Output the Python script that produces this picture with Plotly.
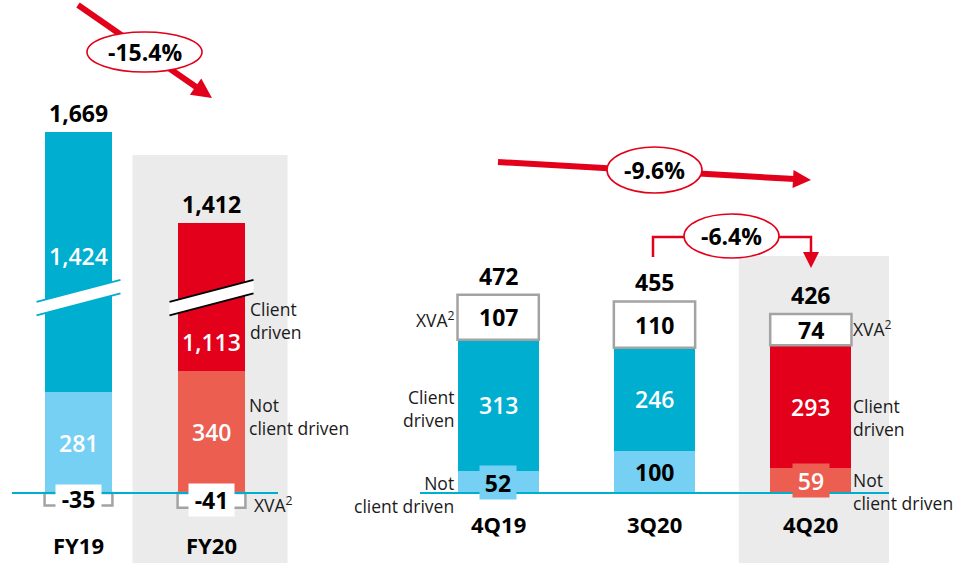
import plotly.graph_objects as go

# ---------------- data ----------------
annual_cats = ["FY19", "FY20"]
annual_not_client = [281, 340]
annual_client = [1424, 1113]
annual_xva = [-35, -41]
annual_total = [1669, 1412]

quarter_cats = ["4Q19", "3Q20", "4Q20"]
quarter_not_client = [52, 100, 59]
quarter_client = [313, 246, 293]
quarter_xva = [107, 110, 74]
quarter_total = [472, 455, 426]

change_labels = ["-15.4%", "-9.6%", "-6.4%"]


def fmt(v):
    return f"{v:,}"


# ---------------- style / layout ----------------
W, H = 953, 563
CYAN = "#00AECF"
LIGHT = "#76D0F3"
RED = "#E2001A"
SALMON = "#EB5E50"
GREY_BG = "#EBEBEB"
BOX_GREY = "#A3A3A3"
FONT = "Open Sans, sans-serif"

BASE_PX = 493          # baseline pixel row
L_SCALE, R_SCALE = 0.359, 0.42   # px per unit
BREAK = 700            # units cut out of the broken left axis
L_DOM = (12, 278)
R_DOM = (420, 889)
BW_L, BW_R = 0.51, 0.52


def yr(scale):
    lo = -(H - BASE_PX) / scale
    return [lo, lo + H / scale]


def P(x):
    return x / W


def Q(y):
    return 1 - y / H


def cx(dom, n, i):
    return dom[0] + (i + 0.5) * (dom[1] - dom[0]) / n


left_client_disp = [c - BREAK for c in annual_client]

fig = go.Figure()
common = dict(hoverinfo="skip", showlegend=False)
fig.add_bar(x=annual_cats, y=annual_not_client, width=BW_L, xaxis="x", yaxis="y",
            marker=dict(color=[LIGHT, SALMON], line=dict(width=0)), **common)
fig.add_bar(x=annual_cats, y=left_client_disp, width=BW_L, xaxis="x", yaxis="y",
            marker=dict(color=[CYAN, RED], line=dict(width=0)), **common)
fig.add_bar(x=annual_cats, y=annual_xva, width=BW_L, xaxis="x", yaxis="y",
            marker=dict(color="white", line=dict(width=2.5, color=BOX_GREY)), **common)

fig.add_bar(x=quarter_cats, y=quarter_not_client, width=BW_R, xaxis="x2", yaxis="y2",
            marker=dict(color=[LIGHT, LIGHT, SALMON], line=dict(width=0)), **common)
fig.add_bar(x=quarter_cats, y=quarter_client, width=BW_R, xaxis="x2", yaxis="y2",
            marker=dict(color=[CYAN, CYAN, RED], line=dict(width=0)), **common)
fig.add_bar(x=quarter_cats, y=quarter_xva, width=BW_R, xaxis="x2", yaxis="y2",
            marker=dict(color="white", line=dict(width=2.5, color=BOX_GREY)), **common)

shapes = []
# highlight backgrounds
fx = cx(L_DOM, 2, 1)
shapes.append(dict(type="rect", xref="paper", yref="paper", layer="below",
                   x0=P(fx - 79), x1=P(fx + 76), y0=0, y1=Q(155),
                   fillcolor=GREY_BG, line=dict(width=0)))
qx = cx(R_DOM, 3, 2)
shapes.append(dict(type="rect", xref="paper", yref="paper", layer="below",
                   x0=P(qx - 72), x1=P(R_DOM[1]), y0=0, y1=Q(256),
                   fillcolor=GREY_BG, line=dict(width=0)))

# baselines
for dom in (L_DOM, R_DOM):
    shapes.append(dict(type="line", xref="paper", yref="paper",
                       x0=P(dom[0]), x1=P(dom[1]), y0=Q(BASE_PX), y1=Q(BASE_PX),
                       line=dict(color=CYAN, width=2)))

# axis-break bands on the left bars
BREAK_AT = 545
bc = BASE_PX - BREAK_AT * L_SCALE
for i, edge in enumerate([CYAN, "black"]):
    c = cx(L_DOM, 2, i)
    xl, xr = c - 42, c + 42
    yl_t, yl_b = bc + 4.5, bc + 18
    yr_t, yr_b = bc - 17.5, bc - 4
    path = (f"M {P(xl)},{Q(yl_t)} L {P(xr)},{Q(yr_t)} L {P(xr)},{Q(yr_b)} "
            f"L {P(xl)},{Q(yl_b)} Z")
    shapes.append(dict(type="path", xref="paper", yref="paper", path=path,
                       fillcolor="white", line=dict(width=0)))
    for (ya, yb) in ((yl_t, yr_t), (yl_b, yr_b)):
        shapes.append(dict(type="line", xref="paper", yref="paper",
                           x0=P(xl), y0=Q(ya), x1=P(xr), y1=Q(yb),
                           line=dict(color=edge, width=1.8)))


def arrow(x0, y0, x1, y1, lw, hl, hw):
    dx, dy = x1 - x0, y1 - y0
    L = (dx * dx + dy * dy) ** 0.5
    ux, uy = dx / L, dy / L
    bx, by = x1 - ux * hl, y1 - uy * hl
    nx, ny = -uy, ux
    out = [dict(type="line", xref="paper", yref="paper",
                x0=P(x0), y0=Q(y0), x1=P(bx + ux * 2), y1=Q(by + uy * 2),
                line=dict(color=RED, width=lw))]
    path = (f"M {P(x1)},{Q(y1)} L {P(bx + nx * hw)},{Q(by + ny * hw)} "
            f"L {P(bx - nx * hw)},{Q(by - ny * hw)} Z")
    out.append(dict(type="path", xref="paper", yref="paper", path=path,
                    fillcolor=RED, line=dict(width=0)))
    return out


def ellipse(x0, x1, y0, y1):
    return dict(type="circle", xref="paper", yref="paper",
                x0=P(x0), x1=P(x1), y0=Q(y0), y1=Q(y1),
                fillcolor="white", line=dict(color=RED, width=1.6))


# FY change arrow
shapes += arrow(78, 5, 212, 98, 6, 20, 10)
shapes.append(ellipse(87, 202, 32, 72))
# 4Q19 -> 4Q20 arrow
shapes += arrow(498, 162, 811, 180, 6, 18, 9)
shapes.append(ellipse(607, 702, 147, 193))
# 3Q20 -> 4Q20 bracket
shapes.append(dict(type="path", xref="paper", yref="paper",
                   path=f"M {P(653)},{Q(257)} L {P(653)},{Q(237)} L {P(811)},{Q(237)} L {P(811)},{Q(254)}",
                   line=dict(color=RED, width=2.5)))
shapes.append(dict(type="path", xref="paper", yref="paper",
                   path=f"M {P(803)},{Q(252)} L {P(819)},{Q(252)} L {P(811)},{Q(268)} Z",
                   fillcolor=RED, line=dict(width=0)))
shapes.append(ellipse(684, 779, 214, 258))

ann = []


def label(text, x, y, xref, yref, size=23, color="black", weight=700, **kw):
    d = dict(text=text, x=x, y=y, xref=xref, yref=yref, showarrow=False,
             xanchor="center", yanchor="middle",
             font=dict(family=FONT, size=size, color=color, weight=weight))
    d.update(kw)
    ann.append(d)


# left panel labels
for i, c in enumerate(annual_cats):
    top = annual_not_client[i] + left_client_disp[i]
    label(fmt(annual_total[i]), c, top, "x", "y", yshift=19)
    label(fmt(annual_not_client[i]), c, annual_not_client[i] / 2, "x", "y",
          color="white", weight=600)
    label(fmt(annual_client[i]), c, annual_not_client[i] + left_client_disp[i] / 2,
          "x", "y", color="white", weight=600, yshift=[6, -45][i])
    label(fmt(annual_xva[i]), c, annual_xva[i] / 2, "x", "y",
          bgcolor="white", width=45, height=[28, 32][i], borderpad=0)
    label(c, c, 0, "x", "y", size=22, yshift=-52)

# right panel labels
nc_bg = [LIGHT, None, SALMON]
nc_col = ["black", "black", "white"]
for i, c in enumerate(quarter_cats):
    nc, cl, xv = quarter_not_client[i], quarter_client[i], quarter_xva[i]
    label(fmt(quarter_total[i]), c, nc + cl + xv, "x2", "y2", yshift=19)
    kw = dict(bgcolor=nc_bg[i], width=36, height=33, borderpad=0) if nc_bg[i] else {}
    label(fmt(nc), c, nc / 2, "x2", "y2", color=nc_col[i],
          weight=700 if nc_col[i] == "black" else 600, **kw)
    label(fmt(cl), c, nc + cl / 2, "x2", "y2", color="white", weight=600)
    label(fmt(xv), c, nc + cl + xv / 2, "x2", "y2")
    label(c, c, 0, "x2", "y2", size=22, yshift=-31)

# side captions
SIDE = dict(size=17.5, weight=400, color="#1a1a1a")
label("Client<br>driven", P(248), Q(320.5), "paper", "paper", xanchor="left", align="left", **SIDE)
label("Not<br>client driven", P(247), Q(416.5), "paper", "paper", xanchor="left", align="left", **SIDE)
label("XVA<sup>2</sup>", P(252), Q(504), "paper", "paper", xanchor="left", **SIDE)
label("XVA<sup>2</sup>", P(457), Q(319), "paper", "paper", xanchor="right", **SIDE)
label("Client<br>driven", P(457), Q(408.5), "paper", "paper", xanchor="right", align="right", **SIDE)
label("Not<br>client driven", P(456), Q(494), "paper", "paper", xanchor="right", align="right", **SIDE)
label("XVA<sup>2</sup>", P(851), Q(328), "paper", "paper", xanchor="left", **SIDE)
label("Client<br>driven", P(851), Q(417), "paper", "paper", xanchor="left", align="left", **SIDE)
label("Not<br>client driven", P(851), Q(491), "paper", "paper", xanchor="left", align="left", **SIDE)

# change labels
label(change_labels[0], P(144.5), Q(52), "paper", "paper")
label(change_labels[1], P(654.5), Q(170), "paper", "paper")
label(change_labels[2], P(731.5), Q(236), "paper", "paper")

axis_off = dict(visible=False, fixedrange=True, showgrid=False, zeroline=False)
fig.update_layout(
    width=W, height=H, autosize=False,
    margin=dict(l=0, r=0, t=0, b=0, pad=0),
    paper_bgcolor="white", plot_bgcolor="rgba(0,0,0,0)",
    template="none", barmode="relative", bargap=0,
    xaxis=dict(domain=[P(L_DOM[0]), P(L_DOM[1])], type="category",
               range=[-0.5, 1.5], anchor="y", **axis_off),
    yaxis=dict(domain=[0, 1], range=yr(L_SCALE), anchor="x", **axis_off),
    xaxis2=dict(domain=[P(R_DOM[0]), P(R_DOM[1])], type="category",
                range=[-0.5, 2.5], anchor="y2", **axis_off),
    yaxis2=dict(domain=[0, 1], range=yr(R_SCALE), anchor="x2", **axis_off),
    shapes=shapes, annotations=ann,
    font=dict(family=FONT),
)

fig.write_html(
    "out.html",
    config={"displayModeBar": False, "staticPlot": True},
    post_script="document.body.style.margin='0px';document.body.style.overflow='hidden';",
)
